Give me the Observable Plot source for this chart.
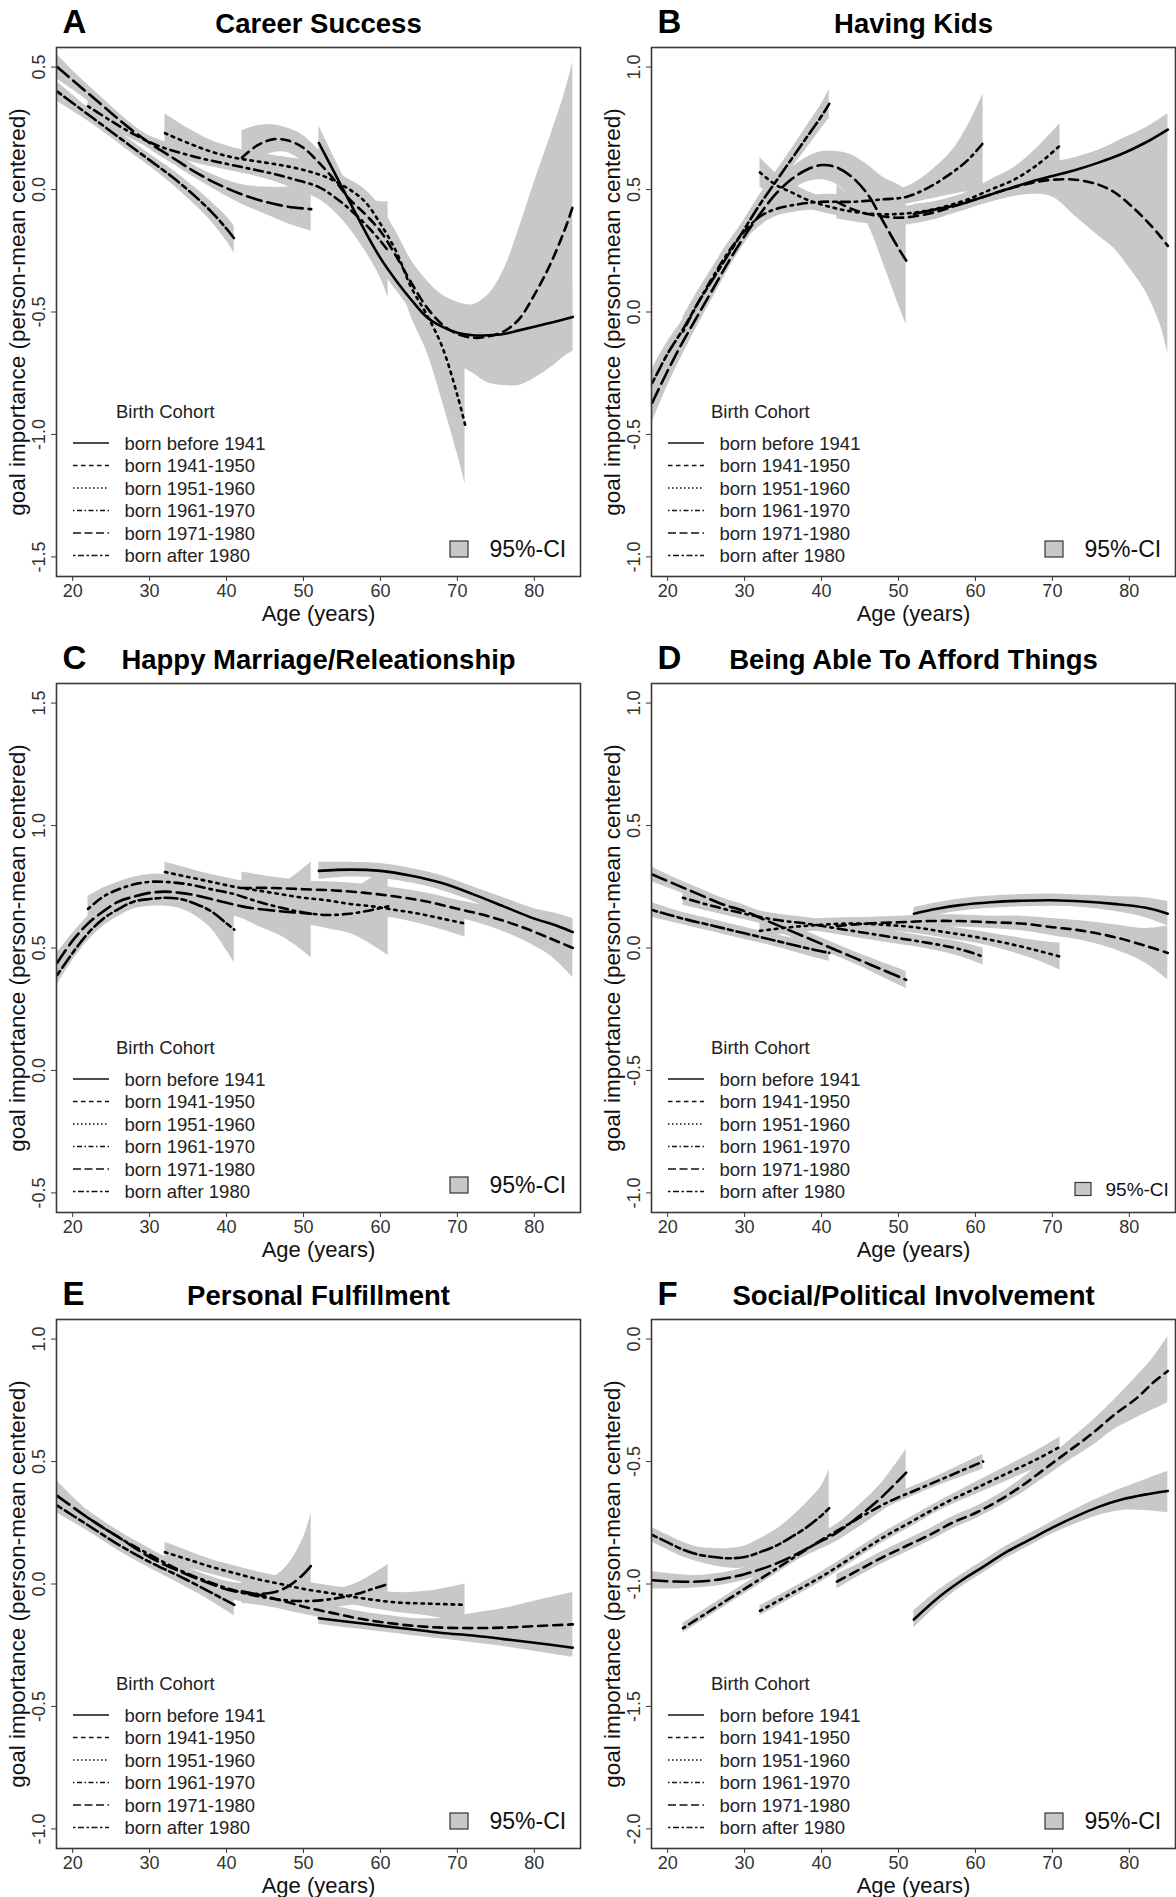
<!DOCTYPE html>
<html><head><meta charset="utf-8">
<script src="https://cdn.jsdelivr.net/npm/d3@7"></script>
<script src="https://cdn.jsdelivr.net/npm/@observablehq/plot@0.6"></script>
<style>
body{margin:0;background:#fff;}
#wrap{position:relative;width:1176px;height:1897px;background:#fff;font-family:"Liberation Sans",Arial,sans-serif;overflow:hidden}
.panel{position:absolute}
#legend{position:absolute;left:0;top:0;pointer-events:none}
</style></head><body><div id="wrap"></div>
<script>
// ---------- categories / labels ----------
const cohorts = ["born before 1941","born 1941-1950","born 1951-1960","born 1961-1970","born 1971-1980","born after 1980"];
const letters = ["A","B","C","D","E","F"];
const titles = ["Career Success","Having Kids","Happy Marriage/Releationship","Being Able To Afford Things","Personal Fulfillment","Social/Political Involvement"];
const yLimits = [[-1.5,0.5],[-1,1],[-0.5,1.5],[-1,1],[-1,1],[-2,0]];
const yTicks = [[-1.5,-1,-0.5,0,0.5],[-1,-0.5,0,0.5,1],[-0.5,0,0.5,1,1.5],[-1,-0.5,0,0.5,1],[-1,-0.5,0,0.5,1],[-2,-1.5,-1,-0.5,0]];
const xTicks = [20,30,40,50,60,70,80];
const xLimits = [17.9, 86];

// ---------- series: [age, fit, CI low, CI high] ----------
// A Career Success
const A_b41 = [[52,0.19,0.12,0.26],[54,0.07,0.01,0.13],[56,-0.05,-0.10,0.0],[58,-0.17,-0.21,-0.13],[60,-0.28,-0.32,-0.24],[62,-0.37,-0.41,-0.33],[64,-0.45,-0.49,-0.41],[66,-0.52,-0.56,-0.48],[68,-0.56,-0.60,-0.52],[70,-0.585,-0.63,-0.54],[72,-0.595,-0.65,-0.545],[74,-0.595,-0.65,-0.54],[76,-0.59,-0.65,-0.53],[78,-0.575,-0.645,-0.505],[80,-0.56,-0.64,-0.48],[82,-0.545,-0.645,-0.445],[85,-0.52,-0.66,-0.38]];
const A_41_50 = [[42,0.13,0.06,0.24],[44,0.18,0.12,0.26],[46,0.205,0.15,0.265],[48,0.20,0.15,0.25],[50,0.17,0.11,0.22],[52,0.11,0.05,0.16],[54,0.04,-0.02,0.09],[56,-0.04,-0.09,0.01],[58,-0.10,-0.16,-0.04],[60,-0.17,-0.25,-0.08],[62,-0.27,-0.35,-0.18],[64,-0.38,-0.47,-0.29],[66,-0.48,-0.58,-0.37],[68,-0.55,-0.66,-0.43],[70,-0.59,-0.71,-0.46],[72,-0.605,-0.75,-0.47],[74,-0.60,-0.79,-0.43],[76,-0.58,-0.80,-0.33],[78,-0.53,-0.80,-0.16],[80,-0.43,-0.77,0.03],[82,-0.31,-0.73,0.21],[84,-0.16,-0.68,0.40],[85,-0.07,-0.66,0.52]];
const A_51_60 = [[32,0.23,0.16,0.31],[35,0.19,0.13,0.25],[38,0.155,0.11,0.20],[41,0.13,0.09,0.17],[44,0.115,0.08,0.15],[47,0.10,0.065,0.135],[50,0.08,0.04,0.12],[53,0.05,0.01,0.09],[56,0.0,-0.04,0.04],[58,-0.05,-0.10,0.0],[60,-0.14,-0.21,-0.07],[62,-0.25,-0.34,-0.17],[64,-0.40,-0.52,-0.29],[66,-0.51,-0.66,-0.38],[68,-0.64,-0.86,-0.46],[70,-0.84,-1.08,-0.62],[71,-0.96,-1.20,-0.71]];
const A_61_70 = [[22,0.34,0.30,0.38],[25,0.28,0.25,0.31],[28,0.225,0.20,0.25],[31,0.18,0.155,0.205],[34,0.15,0.125,0.175],[37,0.125,0.10,0.15],[40,0.105,0.08,0.13],[43,0.085,0.06,0.11],[46,0.065,0.035,0.095],[49,0.04,0.0,0.08],[52,0.01,-0.04,0.06],[54,-0.03,-0.09,0.03],[56,-0.08,-0.16,0.0],[58,-0.14,-0.25,-0.03],[60,-0.21,-0.36,-0.05],[61,-0.25,-0.44,-0.05]];
const A_71_80 = [[18,0.50,0.45,0.55],[21,0.42,0.385,0.455],[24,0.34,0.31,0.37],[27,0.26,0.235,0.285],[30,0.19,0.165,0.215],[33,0.13,0.105,0.155],[36,0.07,0.045,0.095],[39,0.02,-0.01,0.05],[42,-0.02,-0.06,0.02],[45,-0.05,-0.10,0.01],[48,-0.07,-0.14,0.01],[51,-0.08,-0.17,0.02]];
const A_a80 = [[18,0.40,0.36,0.44],[21,0.33,0.30,0.36],[24,0.26,0.235,0.285],[27,0.19,0.165,0.215],[30,0.12,0.095,0.145],[33,0.05,0.02,0.08],[36,-0.03,-0.065,0.005],[38,-0.09,-0.13,-0.05],[40,-0.16,-0.21,-0.11],[41,-0.20,-0.26,-0.15]];
// B Having Kids
const B_b41 = [[52,0.40,0.37,0.44],[55,0.42,0.39,0.45],[58,0.44,0.41,0.47],[61,0.47,0.44,0.50],[64,0.50,0.465,0.535],[67,0.53,0.49,0.57],[70,0.555,0.515,0.60],[73,0.58,0.535,0.63],[76,0.61,0.56,0.66],[79,0.645,0.585,0.705],[82,0.69,0.62,0.75],[85,0.745,0.67,0.81]];
const B_41_50 = [[42,0.45,0.38,0.52],[44,0.42,0.37,0.47],[46,0.40,0.36,0.44],[48,0.39,0.355,0.425],[50,0.385,0.35,0.42],[52,0.39,0.36,0.42],[55,0.41,0.38,0.44],[58,0.44,0.41,0.47],[61,0.47,0.44,0.50],[64,0.50,0.465,0.535],[67,0.525,0.48,0.57],[70,0.54,0.47,0.61],[73,0.54,0.39,0.63],[76,0.52,0.31,0.66],[78,0.49,0.26,0.685],[80,0.44,0.18,0.71],[82,0.38,0.09,0.74],[84,0.31,-0.05,0.78],[85,0.27,-0.17,0.80]];
const B_51_60 = [[32,0.57,0.51,0.63],[34,0.52,0.47,0.57],[36,0.49,0.45,0.53],[38,0.46,0.425,0.495],[41,0.43,0.40,0.46],[44,0.41,0.38,0.44],[47,0.40,0.37,0.43],[50,0.40,0.37,0.43],[53,0.41,0.38,0.44],[56,0.43,0.40,0.46],[59,0.46,0.43,0.49],[62,0.50,0.46,0.54],[65,0.54,0.49,0.59],[68,0.60,0.53,0.67],[71,0.68,0.58,0.77]];
const B_61_70 = [[22,-0.08,-0.14,-0.02],[24,0.04,-0.01,0.09],[26,0.15,0.11,0.19],[28,0.25,0.21,0.29],[30,0.33,0.29,0.37],[32,0.39,0.35,0.43],[34,0.42,0.39,0.46],[37,0.44,0.41,0.47],[40,0.45,0.42,0.48],[44,0.45,0.42,0.48],[48,0.46,0.43,0.49],[51,0.47,0.44,0.51],[54,0.51,0.46,0.57],[57,0.57,0.48,0.66],[59,0.62,0.49,0.76],[61,0.69,0.47,0.89]];
const B_71_80 = [[18,-0.37,-0.45,-0.29],[20,-0.24,-0.30,-0.18],[22,-0.12,-0.17,-0.07],[24,-0.01,-0.05,0.03],[26,0.10,0.065,0.135],[28,0.21,0.18,0.24],[30,0.31,0.28,0.34],[32,0.40,0.37,0.43],[34,0.48,0.44,0.52],[36,0.54,0.495,0.585],[38,0.58,0.53,0.63],[40,0.60,0.54,0.655],[42,0.59,0.52,0.655],[44,0.55,0.46,0.64],[46,0.48,0.36,0.60],[48,0.37,0.20,0.55],[50,0.26,0.03,0.52],[51,0.21,-0.05,0.50]];
const B_a80 = [[18,-0.29,-0.35,-0.23],[20,-0.17,-0.22,-0.12],[22,-0.07,-0.11,-0.03],[24,0.04,0.0,0.08],[26,0.14,0.10,0.18],[28,0.24,0.20,0.28],[30,0.34,0.30,0.38],[32,0.44,0.40,0.48],[34,0.53,0.49,0.57],[36,0.62,0.58,0.66],[38,0.71,0.665,0.755],[40,0.80,0.75,0.85],[41,0.85,0.79,0.91]];
// C Happy Marriage
const C_b41 = [[52,0.815,0.78,0.85],[56,0.82,0.79,0.85],[60,0.815,0.785,0.845],[64,0.795,0.765,0.825],[68,0.765,0.735,0.795],[72,0.72,0.69,0.75],[76,0.67,0.635,0.705],[80,0.62,0.58,0.66],[83,0.59,0.54,0.64],[85,0.565,0.51,0.62]];
const C_41_50 = [[42,0.745,0.68,0.81],[46,0.745,0.70,0.79],[50,0.74,0.705,0.775],[54,0.735,0.70,0.77],[58,0.725,0.69,0.76],[62,0.71,0.675,0.745],[66,0.69,0.655,0.725],[70,0.66,0.625,0.695],[74,0.63,0.59,0.67],[78,0.59,0.54,0.64],[82,0.54,0.47,0.61],[85,0.50,0.38,0.62]];
const C_51_60 = [[32,0.81,0.77,0.85],[35,0.79,0.755,0.825],[38,0.77,0.74,0.80],[41,0.75,0.72,0.78],[44,0.735,0.705,0.765],[47,0.72,0.69,0.75],[50,0.705,0.675,0.735],[53,0.695,0.665,0.725],[56,0.68,0.65,0.71],[59,0.67,0.635,0.705],[62,0.655,0.62,0.69],[65,0.64,0.60,0.68],[68,0.62,0.575,0.665],[71,0.60,0.545,0.655]];
const C_61_70 = [[22,0.66,0.61,0.71],[24,0.71,0.675,0.745],[26,0.74,0.71,0.77],[28,0.76,0.73,0.79],[30,0.77,0.74,0.80],[32,0.77,0.74,0.80],[35,0.76,0.73,0.79],[38,0.74,0.71,0.77],[41,0.72,0.69,0.75],[44,0.69,0.655,0.725],[47,0.665,0.63,0.70],[50,0.645,0.60,0.69],[53,0.635,0.58,0.69],[56,0.64,0.56,0.72],[58,0.65,0.53,0.77],[61,0.67,0.47,0.82]];
const C_71_80 = [[18,0.44,0.40,0.48],[20,0.53,0.50,0.56],[22,0.60,0.57,0.63],[24,0.65,0.62,0.68],[26,0.69,0.66,0.72],[28,0.71,0.68,0.74],[30,0.725,0.695,0.755],[32,0.73,0.70,0.76],[34,0.725,0.695,0.755],[36,0.715,0.68,0.75],[38,0.70,0.66,0.74],[40,0.685,0.64,0.73],[42,0.67,0.62,0.72],[44,0.66,0.59,0.73],[47,0.65,0.55,0.76],[49,0.645,0.51,0.80],[51,0.64,0.46,0.85]];
const C_a80 = [[18,0.39,0.35,0.43],[20,0.48,0.45,0.51],[22,0.56,0.53,0.59],[24,0.62,0.59,0.65],[26,0.66,0.63,0.69],[28,0.69,0.66,0.72],[30,0.70,0.67,0.73],[32,0.705,0.67,0.74],[34,0.70,0.66,0.74],[36,0.68,0.63,0.73],[38,0.65,0.58,0.72],[40,0.60,0.49,0.71],[41,0.575,0.44,0.71]];
// D Afford Things
const D_b41 = [[52,0.14,0.115,0.165],[55,0.16,0.135,0.185],[58,0.175,0.15,0.20],[62,0.187,0.162,0.212],[66,0.193,0.168,0.218],[70,0.195,0.17,0.22],[74,0.19,0.165,0.215],[78,0.18,0.15,0.21],[82,0.165,0.125,0.205],[85,0.14,0.09,0.19]];
const D_41_50 = [[42,0.09,0.06,0.12],[46,0.10,0.075,0.125],[50,0.105,0.08,0.13],[54,0.11,0.085,0.135],[58,0.11,0.085,0.135],[62,0.105,0.08,0.13],[66,0.10,0.07,0.13],[70,0.085,0.05,0.12],[74,0.07,0.03,0.11],[78,0.045,-0.005,0.095],[82,0.01,-0.06,0.08],[85,-0.02,-0.13,0.09]];
const D_51_60 = [[32,0.07,0.04,0.10],[36,0.085,0.06,0.11],[40,0.095,0.07,0.12],[44,0.10,0.075,0.125],[48,0.095,0.07,0.12],[52,0.085,0.06,0.11],[56,0.065,0.04,0.09],[60,0.045,0.02,0.07],[64,0.02,-0.01,0.05],[68,-0.01,-0.05,0.03],[71,-0.035,-0.09,0.02]];
const D_61_70 = [[22,0.205,0.175,0.235],[26,0.17,0.145,0.195],[30,0.14,0.115,0.165],[34,0.115,0.09,0.14],[38,0.10,0.075,0.125],[42,0.08,0.055,0.105],[46,0.06,0.035,0.085],[50,0.04,0.015,0.065],[54,0.02,-0.005,0.045],[58,-0.005,-0.035,0.025],[61,-0.035,-0.07,0.0]];
const D_71_80 = [[18,0.30,0.27,0.33],[21,0.26,0.235,0.285],[24,0.22,0.195,0.245],[27,0.18,0.155,0.205],[30,0.15,0.125,0.175],[33,0.11,0.085,0.135],[36,0.07,0.045,0.095],[39,0.03,0.005,0.055],[42,-0.01,-0.035,0.015],[45,-0.05,-0.075,-0.025],[48,-0.09,-0.12,-0.06],[51,-0.13,-0.165,-0.095]];
const D_a80 = [[18,0.155,0.125,0.185],[22,0.12,0.095,0.145],[26,0.09,0.065,0.115],[30,0.06,0.035,0.085],[34,0.03,0.005,0.055],[38,0.0,-0.03,0.03],[41,-0.02,-0.055,0.015]];
// E Personal Fulfillment
const E_b41 = [[52,-0.14,-0.165,-0.115],[56,-0.155,-0.18,-0.13],[60,-0.17,-0.195,-0.145],[64,-0.185,-0.21,-0.16],[68,-0.20,-0.225,-0.175],[72,-0.21,-0.24,-0.18],[76,-0.225,-0.255,-0.195],[80,-0.24,-0.275,-0.205],[85,-0.26,-0.30,-0.22]];
const E_41_50 = [[42,-0.03,-0.08,0.02],[45,-0.05,-0.09,-0.01],[48,-0.075,-0.11,-0.04],[51,-0.10,-0.13,-0.07],[54,-0.12,-0.15,-0.09],[57,-0.14,-0.17,-0.11],[60,-0.155,-0.185,-0.125],[64,-0.17,-0.20,-0.14],[68,-0.178,-0.21,-0.14],[72,-0.18,-0.215,-0.12],[76,-0.178,-0.22,-0.10],[80,-0.172,-0.235,-0.07],[85,-0.165,-0.28,-0.035]];
const E_51_60 = [[32,0.13,0.09,0.17],[35,0.10,0.065,0.135],[38,0.07,0.04,0.10],[41,0.045,0.015,0.075],[44,0.02,-0.01,0.05],[47,0.0,-0.03,0.03],[50,-0.02,-0.05,0.01],[54,-0.04,-0.07,-0.01],[58,-0.06,-0.095,-0.025],[62,-0.075,-0.115,-0.035],[66,-0.08,-0.13,-0.03],[71,-0.085,-0.16,0.0]];
const E_61_70 = [[22,0.27,0.24,0.30],[26,0.19,0.165,0.215],[30,0.12,0.095,0.145],[34,0.055,0.03,0.08],[38,0.005,-0.02,0.03],[42,-0.035,-0.06,-0.01],[46,-0.06,-0.09,-0.03],[50,-0.07,-0.10,-0.04],[54,-0.06,-0.095,-0.025],[57,-0.04,-0.085,0.005],[59,-0.02,-0.08,0.04],[61,0.0,-0.08,0.08]];
const E_71_80 = [[18,0.36,0.31,0.42],[22,0.27,0.24,0.30],[26,0.19,0.165,0.215],[30,0.11,0.085,0.135],[34,0.05,0.025,0.075],[38,0.0,-0.03,0.03],[41,-0.03,-0.065,0.005],[44,-0.04,-0.085,0.005],[46,-0.035,-0.095,0.025],[48,-0.01,-0.10,0.08],[50,0.04,-0.11,0.19],[51,0.075,-0.12,0.29]];
const E_a80 = [[18,0.32,0.29,0.35],[22,0.24,0.215,0.265],[26,0.16,0.135,0.185],[30,0.09,0.065,0.115],[34,0.03,0.0,0.06],[38,-0.035,-0.07,0.0],[41,-0.085,-0.13,-0.04]];
// F Social/Political Involvement
const F_b41 = [[52,-1.145,-1.18,-1.11],[55,-1.06,-1.09,-1.03],[58,-0.99,-1.015,-0.965],[61,-0.93,-0.955,-0.905],[64,-0.87,-0.895,-0.845],[67,-0.82,-0.845,-0.795],[70,-0.77,-0.795,-0.745],[73,-0.725,-0.755,-0.695],[76,-0.685,-0.72,-0.65],[79,-0.655,-0.70,-0.61],[82,-0.635,-0.70,-0.575],[85,-0.62,-0.71,-0.54]];
const F_41_50 = [[42,-0.99,-1.02,-0.96],[45,-0.94,-0.965,-0.915],[48,-0.89,-0.915,-0.865],[51,-0.845,-0.87,-0.82],[54,-0.80,-0.825,-0.775],[57,-0.75,-0.775,-0.725],[60,-0.71,-0.735,-0.685],[63,-0.66,-0.685,-0.635],[66,-0.60,-0.63,-0.57],[69,-0.53,-0.565,-0.495],[72,-0.46,-0.50,-0.42],[75,-0.39,-0.44,-0.34],[78,-0.31,-0.37,-0.25],[81,-0.24,-0.32,-0.15],[83,-0.18,-0.29,-0.08],[85,-0.13,-0.26,0.01]];
const F_51_60 = [[32,-1.11,-1.13,-1.09],[36,-1.04,-1.06,-1.02],[40,-0.97,-0.99,-0.95],[44,-0.89,-0.91,-0.87],[48,-0.81,-0.83,-0.79],[52,-0.74,-0.76,-0.72],[56,-0.67,-0.69,-0.65],[60,-0.61,-0.635,-0.585],[64,-0.55,-0.58,-0.52],[68,-0.49,-0.525,-0.455],[71,-0.44,-0.48,-0.40]];
const F_61_70 = [[22,-1.18,-1.20,-1.16],[25,-1.12,-1.14,-1.10],[28,-1.06,-1.08,-1.04],[31,-1.0,-1.02,-0.98],[34,-0.94,-0.96,-0.92],[37,-0.88,-0.90,-0.86],[40,-0.82,-0.84,-0.80],[43,-0.765,-0.785,-0.745],[46,-0.71,-0.73,-0.69],[49,-0.66,-0.68,-0.64],[52,-0.62,-0.64,-0.60],[55,-0.58,-0.60,-0.56],[58,-0.54,-0.565,-0.515],[61,-0.50,-0.53,-0.47]];
const F_71_80 = [[18,-0.985,-1.02,-0.95],[21,-0.99,-1.02,-0.96],[24,-0.99,-1.015,-0.965],[27,-0.98,-1.005,-0.955],[30,-0.96,-0.985,-0.935],[33,-0.93,-0.955,-0.905],[36,-0.89,-0.915,-0.865],[39,-0.84,-0.87,-0.81],[42,-0.79,-0.825,-0.755],[45,-0.72,-0.765,-0.675],[48,-0.64,-0.70,-0.58],[51,-0.545,-0.63,-0.45]];
const F_a80 = [[18,-0.80,-0.83,-0.77],[20,-0.83,-0.86,-0.80],[22,-0.86,-0.89,-0.83],[24,-0.88,-0.91,-0.85],[26,-0.89,-0.925,-0.855],[28,-0.895,-0.935,-0.855],[30,-0.89,-0.935,-0.845],[32,-0.87,-0.925,-0.815],[34,-0.845,-0.91,-0.78],[36,-0.81,-0.89,-0.73],[38,-0.77,-0.87,-0.67],[40,-0.72,-0.84,-0.60],[41,-0.69,-0.83,-0.53]];

const panels = [
  [A_b41, A_41_50, A_51_60, A_61_70, A_71_80, A_a80],
  [B_b41, B_41_50, B_51_60, B_61_70, B_71_80, B_a80],
  [C_b41, C_41_50, C_51_60, C_61_70, C_71_80, C_a80],
  [D_b41, D_41_50, D_51_60, D_61_70, D_71_80, D_a80],
  [E_b41, E_41_50, E_51_60, E_61_70, E_71_80, E_a80],
  [F_b41, F_41_50, F_51_60, F_61_70, F_71_80, F_a80]
];

// ---------- styles ----------
const FONT = '"Liberation Sans", Arial, sans-serif';
const CI_FILL = "#c8c8c8";
const lineDash = [null, "9,6", "2.5,5", "2.5,5,9,5", "15,6", "5,4,13,4"];
const legendDash = [null, "4.5,3.5", "1.5,2.5", "1.5,2.5,5,2.5", "8,3.5", "2.5,2.5,6,2.5"];

const wrap = document.getElementById("wrap");
const ROW = 636, FRAME_H = 529, MT = 47;

panels.forEach((series, i) => {
  const col = i % 2, row = Math.floor(i / 2);
  const mL = col ? 63 : 56, mR = col ? 1 : 8;
  const mB = row < 2 ? 60 : 49;
  const H = MT + FRAME_H + mB;
  const [lo, hi] = yLimits[i];
  const pad = (hi - lo) * 0.04;
  const marks = [];
  series.forEach(d => marks.push(Plot.areaY(d, {x: p => p[0], y1: p => p[2], y2: p => p[3], fill: CI_FILL, curve: "catmull-rom"})));
  series.forEach((d, k) => {
    const o = {x: p => p[0], y: p => p[1], stroke: "#000", strokeWidth: 2.6, curve: "catmull-rom"};
    if (lineDash[k]) o.strokeDasharray = lineDash[k];
    marks.push(Plot.line(d, o));
  });
  marks.push(Plot.frame({stroke: "#3a3a3a", strokeWidth: 1.6}));
  marks.push(Plot.axisX(xTicks, {tickSize: 5, tickPadding: 3, fontSize: 18, fill: "#333", stroke: "#3a3a3a", label: null}));
  marks.push(Plot.axisY(yTicks[i], {tickSize: 5, tickFormat: () => "", stroke: "#3a3a3a", label: null}));
  marks.push(Plot.text(yTicks[i], {y: d => d, text: d => d.toFixed(1), frameAnchor: "left", dx: -17, rotate: -90,
    textAnchor: "middle", lineAnchor: "middle", fontSize: 18, fill: "#333"}));
  marks.push(Plot.text(["Age (years)"], {frameAnchor: "bottom", dy: 37, lineAnchor: "middle", fontSize: 22, fill: "#111"}));
  marks.push(Plot.text(["goal importance (person-mean centered)"], {frameAnchor: "left", dx: -39, rotate: -90,
    textAnchor: "middle", lineAnchor: "middle", fontSize: 22.5, fill: "#111"}));
  marks.push(Plot.text([titles[i]], {frameAnchor: "top", dy: -23, lineAnchor: "middle", fontSize: 27.5, fontWeight: "bold", fill: "#000"}));
  marks.push(Plot.text([letters[i]], {frameAnchor: "top-left", dx: 6, dy: -25, textAnchor: "start", lineAnchor: "middle", fontSize: 33, fontWeight: "bold", fill: "#000"}));

  const svg = Plot.plot({
    width: 588, height: H,
    marginTop: MT, marginBottom: mB, marginLeft: mL, marginRight: mR,
    x: {domain: xLimits},
    y: {domain: [lo - pad, hi + pad]},
    style: {fontFamily: FONT, background: "transparent", color: "#222", overflow: "visible"},
    marks
  });
  svg.classList.add("panel");
  svg.style.left = (col * 588) + "px";
  svg.style.top = (row * ROW) + "px";
  wrap.appendChild(svg);
});

// ---------- legends (overlay) ----------
const leg = d3.select(wrap).append("svg").attr("id", "legend").attr("width", 1176).attr("height", 1897)
  .style("font-family", FONT);
panels.forEach((series, i) => {
  const col = i % 2, row = Math.floor(i / 2);
  const fl = col ? 588 + 63 : 56;
  const fr = col ? 1175 : 580;
  const fb = row * ROW + MT + FRAME_H;
  const g = leg.append("g");
  g.append("text").attr("x", fl + 60).attr("y", fb - 165).attr("dominant-baseline", "central")
    .attr("font-size", 18.5).attr("fill", "#222").text("Birth Cohort");
  cohorts.forEach((c, k) => {
    const y = fb - 133 + 22.5 * k;
    const ln = g.append("line").attr("x1", fl + 17).attr("x2", fl + 53).attr("y1", y).attr("y2", y)
      .attr("stroke", "#111").attr("stroke-width", 1.3);
    if (legendDash[k]) ln.attr("stroke-dasharray", legendDash[k]);
    g.append("text").attr("x", fl + 68.5).attr("y", y).attr("dominant-baseline", "central")
      .attr("font-size", 18.5).attr("fill", "#222").text(c);
  });
  const small = i === 3;
  const bw = small ? 16 : 18, bh = small ? 13 : 16;
  const cy = small ? fb - 23 : fb - 27;
  const bx = small ? fr - 100 : fr - 130;
  g.append("rect").attr("x", bx).attr("y", cy - bh / 2).attr("width", bw).attr("height", bh)
    .attr("fill", CI_FILL).attr("stroke", "#333").attr("stroke-width", 1.2);
  g.append("text").attr("x", small ? fr - 69.5 : fr - 90.5).attr("y", cy).attr("dominant-baseline", "central")
    .attr("font-size", small ? 19 : 23).attr("fill", "#111").text("95%-CI");
});
</script></body></html>
